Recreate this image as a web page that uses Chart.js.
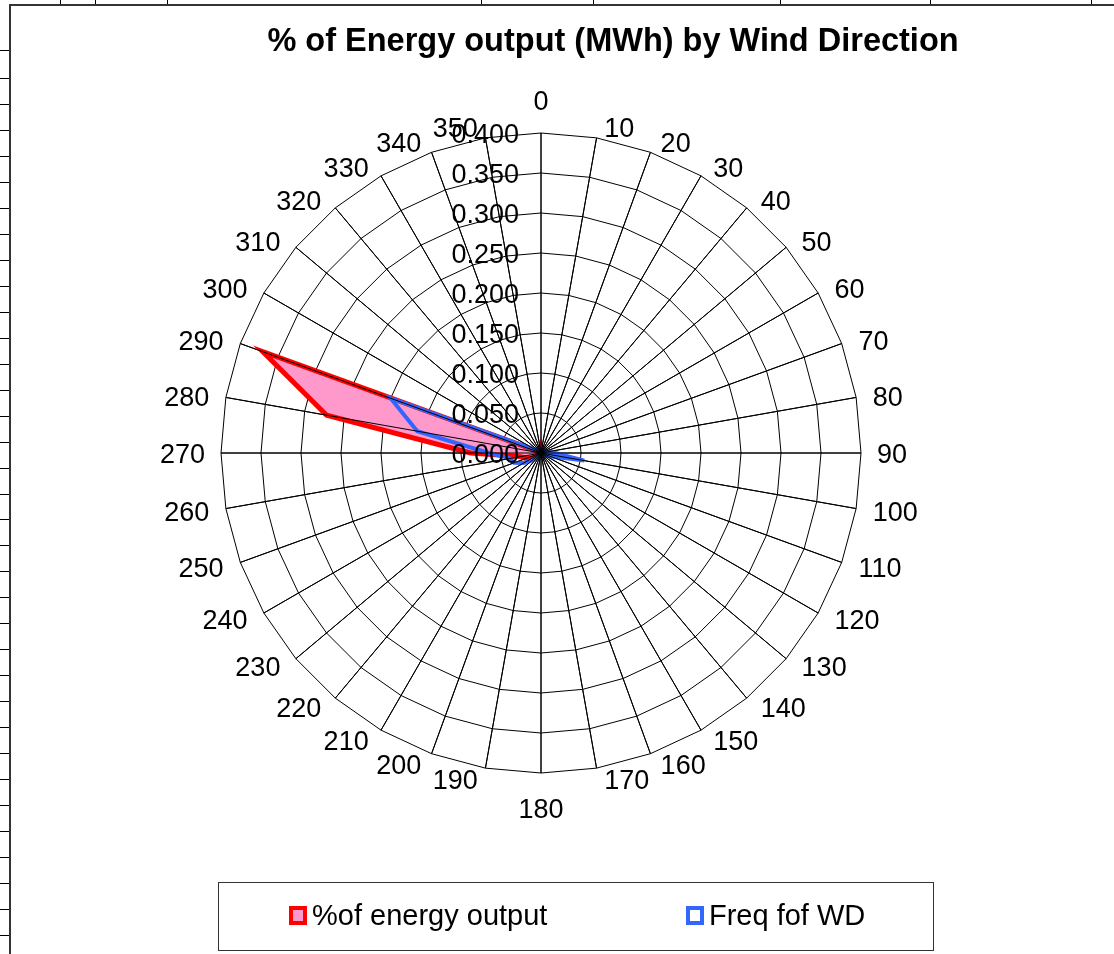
<!DOCTYPE html>
<html>
<head>
<meta charset="utf-8">
<title>% of Energy output (MWh) by Wind Direction</title>
<script src="https://cdn.jsdelivr.net/npm/chart.js@4.4.0/dist/chart.umd.min.js"></script>
<style>
    html, body { margin: 0; padding: 0; background: #fff; overflow: hidden; }
    canvas { display: block; }
</style>
</head>
<body>
<canvas id="myChart" width="1114" height="954"></canvas>
<script>
// Data

const directions = ["0", "10", "20", "30", "40", "50", "60", "70", "80", "90", "100", "110",
    "120", "130", "140", "150", "160", "170", "180", "190", "200", "210", "220", "230",
    "240", "250", "260", "270", "280", "290", "300", "310", "320", "330", "340", "350"];

const energyShare = [0.002, 0.001, 0.001, 0.001, 0.001, 0.001, 0.001, 0.002, 0.004, 0.012, 0.028, 0.004,
    0.002, 0.001, 0.001, 0.001, 0.001, 0.001, 0.001, 0.001, 0.001, 0.002, 0.003, 0.006,
    0.012, 0.020, 0.026, 0.088, 0.272, 0.370, 0.004, 0.002, 0.001, 0.001, 0.001, 0.001];

const windFreq = [0.004, 0.003, 0.003, 0.003, 0.003, 0.003, 0.003, 0.004, 0.007, 0.018, 0.055, 0.012,
    0.005, 0.004, 0.003, 0.003, 0.003, 0.003, 0.003, 0.003, 0.004, 0.005, 0.008, 0.014,
    0.025, 0.036, 0.039, 0.065, 0.157, 0.200, 0.008, 0.004, 0.003, 0.003, 0.003, 0.003];

const radialTickLabels = ["0.000", "0.050", "0.100", "0.150", "0.200", "0.250", "0.300", "0.350", "0.400"];

const seriesNames = ["%of energy output", "Freq fof WD"];
const chartTitle = "% of Energy output (MWh) by Wind Direction";

const FONT = "'Liberation Sans', Arial, sans-serif";
const RED = "#ff0000";
const PINK = "#ff99cc";
const BLUE = "#3366ff";

// Spreadsheet cells behind the chart object

const sheetBackground = {
    id: "sheetBackground",
    beforeDraw(chart) {
        const ctx = chart.ctx;
        ctx.save();
        ctx.fillStyle = "#fff";
        ctx.fillRect(0, 0, chart.width, chart.height);

        ctx.strokeStyle = "#000";
        ctx.lineWidth = 1;
        ctx.beginPath();
        // row lines left of the chart
        ctx.moveTo(0, 50.5); ctx.lineTo(10, 50.5);
        for (let y = 78; y < chart.height; y += 25.97) {
            const yy = Math.round(y) + 0.5;
            ctx.moveTo(0, yy); ctx.lineTo(10, yy);
        }
        // column lines above the chart
        [60, 95, 167, 481, 593, 780, 930, 1091].forEach(x => {
            ctx.moveTo(x + 0.5, 0); ctx.lineTo(x + 0.5, 5);
        });
        ctx.stroke();

        // chart object border
        ctx.strokeStyle = "#333";
        ctx.lineWidth = 2;
        ctx.beginPath();
        ctx.moveTo(10, chart.height);
        ctx.lineTo(10, 5);
        ctx.lineTo(chart.width, 5);
        ctx.stroke();
        ctx.restore();
    }
};

// Excel style labels, axis lines on top, title and legend

const excelLabels = {
    id: "excelLabels",
    afterDatasetsDraw(chart) {
        const ctx = chart.ctx;
        const scale = chart.scales.r;
        const n = chart.data.labels.length;
        ctx.save();

        // category axis lines are drawn over the series
        ctx.strokeStyle = "#000";
        ctx.lineWidth = 1;
        ctx.beginPath();
        for (let i = 0; i < n; i++) {
            const p = scale.getPointPosition(i, scale.drawingArea);
            ctx.moveTo(scale.xCenter, scale.yCenter);
            ctx.lineTo(p.x, p.y);
        }
        ctx.stroke();

        // value axis labels, left of the vertical axis
        ctx.fillStyle = "#000";
        ctx.font = `27px ${FONT}`;
        ctx.textAlign = "right";
        ctx.textBaseline = "middle";
        scale.ticks.forEach((tick, i) => {
            const y = scale.yCenter - scale.getDistanceFromCenterForValue(tick.value);
            ctx.fillText(radialTickLabels[i], scale.xCenter - 22, y + 3);
        });

        // direction labels
        for (let i = 0; i < n; i++) {
            const rad = scale.getIndexAngle(i);
            const c = Math.cos(rad);
            const s = Math.sin(rad);
            const p = scale.getPointPosition(i, scale.drawingArea + 16);
            let x = p.x;
            let y = p.y;
            if (Math.abs(s) < 1e-6) {
                ctx.textAlign = "center";
                y += c > 0 ? -17 : 19;
            } else {
                ctx.textAlign = s > 0 ? "left" : "right";
                x += (s > 0 ? 1 : -1) * 5 * Math.abs(c);
                y += 5 * c;
            }
            ctx.fillText(chart.data.labels[i], x, y + 3);
        }

        ctx.restore();
    },
    afterDraw(chart) {
        const ctx = chart.ctx;
        ctx.save();

        // title
        ctx.fillStyle = "#000";
        ctx.font = `bold 32.5px ${FONT}`;
        ctx.textAlign = "center";
        ctx.textBaseline = "middle";
        ctx.fillText(chartTitle, 613, 42);

        // legend box
        ctx.strokeStyle = "#333";
        ctx.lineWidth = 1;
        ctx.strokeRect(218.5, 882.5, 715, 68);

        const swatches = [
            { x: 289, border: RED, fill: PINK, text: seriesNames[0] },
            { x: 686, border: BLUE, fill: "#fff", text: seriesNames[1] }
        ];
        ctx.font = `29px ${FONT}`;
        ctx.textAlign = "left";
        swatches.forEach(sw => {
            ctx.fillStyle = sw.border;
            ctx.fillRect(sw.x, 906, 18, 19);
            ctx.fillStyle = sw.fill;
            ctx.fillRect(sw.x + 4, 910, 10, 11);
            ctx.fillStyle = "#000";
            ctx.fillText(sw.text, sw.x + 23, 917);
        });
        ctx.restore();
    }
};

// Config

const config = {
    type: "radar",
    data: {
        labels: directions,
        datasets: [
            {
                label: seriesNames[0],
                data: energyShare,
                borderColor: RED,
                backgroundColor: PINK,
                borderWidth: 5,
                borderJoinStyle: "miter",
                fill: true,
                pointRadius: 0,
                order: 2
            },
            {
                label: seriesNames[1],
                data: windFreq,
                borderColor: BLUE,
                backgroundColor: "rgba(0, 0, 0, 0)",
                borderWidth: 4,
                borderJoinStyle: "miter",
                fill: false,
                pointRadius: 0,
                order: 1
            }
        ]
    },
    options: {
        responsive: false,
        animation: false,
        layout: {
            padding: { left: 221, top: 133, right: 253, bottom: 181 }
        },
        plugins: {
            legend: { display: false },
            title: { display: false },
            tooltip: { enabled: false }
        },
        scales: {
            r: {
                min: 0,
                max: 0.4,
                ticks: { stepSize: 0.05, display: false },
                pointLabels: { display: false },
                grid: { color: "#000", lineWidth: 1 },
                angleLines: { color: "#000", lineWidth: 1 }
            }
        }
    },
    plugins: [sheetBackground, excelLabels]
};

// Render

const myChart = new Chart(document.getElementById("myChart"), config);
</script>
</body>
</html>
